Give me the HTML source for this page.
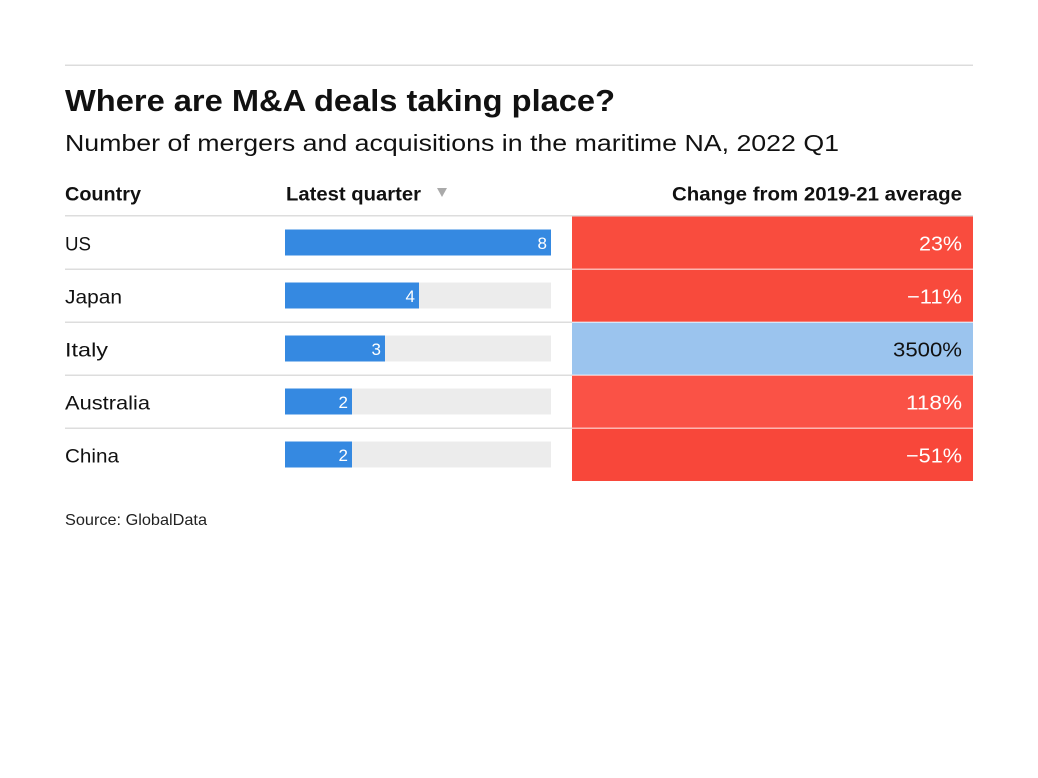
<!DOCTYPE html>
<html>
<head>
<meta charset="utf-8">
<style>
html,body{margin:0;padding:0;background:#fff;}
body{width:1038px;height:778px;overflow:hidden;}
svg{display:block;}
text{font-family:"Liberation Sans",sans-serif;}
</style>
</head>
<body>
<svg width="1038" height="778" viewBox="0 0 1038 778" xmlns="http://www.w3.org/2000/svg">
  <rect x="0" y="0" width="1038" height="778" fill="#fff"/>
  <!-- top rule -->
  <rect x="65" y="64.5" width="908" height="1.5" fill="#dcdcdc"/>
  <!-- title -->
  <text x="65" y="111" font-size="30.5" font-weight="bold" fill="#111" textLength="550" lengthAdjust="spacingAndGlyphs">Where are M&amp;A deals taking place?</text>
  <text x="65" y="151" font-size="23.5" fill="#111" textLength="774" lengthAdjust="spacingAndGlyphs">Number of mergers and acquisitions in the maritime NA, 2022 Q1</text>
  <!-- headers -->
  <text x="65" y="200.5" font-size="19" font-weight="bold" fill="#111" textLength="76" lengthAdjust="spacingAndGlyphs">Country</text>
  <text x="286" y="200.5" font-size="19" font-weight="bold" fill="#111" textLength="135" lengthAdjust="spacingAndGlyphs">Latest quarter</text>
  <polygon points="437,188 447,188 442,197" fill="#aaaaaa"/>
  <text x="962" y="200.5" font-size="19" font-weight="bold" fill="#111" text-anchor="end" textLength="290" lengthAdjust="spacingAndGlyphs">Change from 2019-21 average</text>

  <!-- change cells -->
  <rect x="572" y="216" width="401" height="53" fill="#f94c3e"/>
  <rect x="572" y="269" width="401" height="53" fill="#f84a3c"/>
  <rect x="572" y="322" width="401" height="53" fill="#9bc4ee"/>
  <rect x="572" y="375" width="401" height="53" fill="#fa5246"/>
  <rect x="572" y="428" width="401" height="53" fill="#f8473a"/>

  <!-- row lines -->
  <rect x="65" y="215" width="908" height="1.5" fill="#dddddd"/>
  <rect x="65" y="268.5" width="507" height="1.5" fill="#dddddd"/>
  <rect x="65" y="321.5" width="507" height="1.5" fill="#dddddd"/>
  <rect x="65" y="374.5" width="507" height="1.5" fill="#dddddd"/>
  <rect x="65" y="427.5" width="507" height="1.5" fill="#dddddd"/>
  <rect x="572" y="268.5" width="401" height="1.5" fill="#ffffff" fill-opacity="0.6"/>
  <rect x="572" y="321.5" width="401" height="1.5" fill="#ffffff" fill-opacity="0.6"/>
  <rect x="572" y="374.5" width="401" height="1.5" fill="#ffffff" fill-opacity="0.6"/>
  <rect x="572" y="427.5" width="401" height="1.5" fill="#ffffff" fill-opacity="0.6"/>

  <!-- country names -->
  <text x="65" y="250.5" font-size="19.5" fill="#111" textLength="26" lengthAdjust="spacingAndGlyphs">US</text>
  <text x="65" y="303.5" font-size="19.5" fill="#111" textLength="57" lengthAdjust="spacingAndGlyphs">Japan</text>
  <text x="65" y="356.5" font-size="19.5" fill="#111" textLength="43" lengthAdjust="spacingAndGlyphs">Italy</text>
  <text x="65" y="409.5" font-size="19.5" fill="#111" textLength="85" lengthAdjust="spacingAndGlyphs">Australia</text>
  <text x="65" y="462.5" font-size="19.5" fill="#111" textLength="54" lengthAdjust="spacingAndGlyphs">China</text>

  <!-- bars -->
  <g>
    <rect x="285" y="229.5" width="266" height="26" fill="#ececec"/>
    <rect x="285" y="229.5" width="266" height="26" fill="#3589e1"/>
    <text x="547" y="249" font-size="17" fill="#fff" text-anchor="end">8</text>

    <rect x="285" y="282.5" width="266" height="26" fill="#ececec"/>
    <rect x="285" y="282.5" width="134" height="26" fill="#3589e1"/>
    <text x="415" y="302" font-size="17" fill="#fff" text-anchor="end">4</text>

    <rect x="285" y="335.5" width="266" height="26" fill="#ececec"/>
    <rect x="285" y="335.5" width="100" height="26" fill="#3589e1"/>
    <text x="381" y="355" font-size="17" fill="#fff" text-anchor="end">3</text>

    <rect x="285" y="388.5" width="266" height="26" fill="#ececec"/>
    <rect x="285" y="388.5" width="67" height="26" fill="#3589e1"/>
    <text x="348" y="408" font-size="17" fill="#fff" text-anchor="end">2</text>

    <rect x="285" y="441.5" width="266" height="26" fill="#ececec"/>
    <rect x="285" y="441.5" width="67" height="26" fill="#3589e1"/>
    <text x="348" y="461" font-size="17" fill="#fff" text-anchor="end">2</text>
  </g>

  <!-- change values -->
  <text x="962" y="250.5" font-size="20" fill="#fff" text-anchor="end" textLength="43" lengthAdjust="spacingAndGlyphs">23%</text>
  <text x="962" y="303.5" font-size="20" fill="#fff" text-anchor="end" textLength="55" lengthAdjust="spacingAndGlyphs">−11%</text>
  <text x="962" y="356.5" font-size="20" fill="#111" text-anchor="end" textLength="69" lengthAdjust="spacingAndGlyphs">3500%</text>
  <text x="962" y="409.5" font-size="20" fill="#fff" text-anchor="end" textLength="56" lengthAdjust="spacingAndGlyphs">118%</text>
  <text x="962" y="462.5" font-size="20" fill="#fff" text-anchor="end" textLength="56" lengthAdjust="spacingAndGlyphs">−51%</text>

  <!-- source -->
  <text x="65" y="525" font-size="16" fill="#222" textLength="142" lengthAdjust="spacingAndGlyphs">Source: GlobalData</text>
</svg>
</body>
</html>
